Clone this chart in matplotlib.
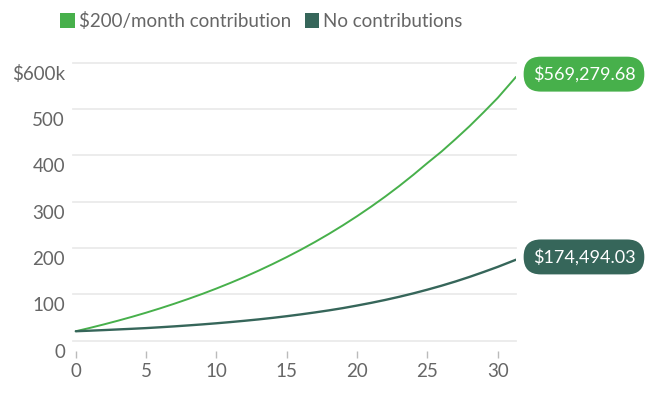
import numpy as np
import matplotlib
matplotlib.use("Agg")
import matplotlib.pyplot as plt
import matplotlib.transforms as mtransforms
from matplotlib.patches import Patch

plt.rcParams['font.family'] = ['Lato', 'DejaVu Sans']

# years since start (last point is where the lines end on the chart)
years = [0, 1, 2, 3, 4, 5, 6, 7, 8, 9, 10, 11, 12, 13, 14, 15, 16, 17, 18, 19, 20,
         21, 22, 23, 24, 25, 26, 27, 28, 29, 30, 31.3]

# balance in $k
with_contrib = [20, 27.2, 34.8, 42.8, 51.2, 60.1, 69.5, 79.4, 89.8, 100.7, 112.3,
                124.5, 137.3, 150.9, 165.2, 180.2, 196.0, 212.7, 230.3, 248.9, 268.5,
                289.1, 310.8, 333.7, 357.9, 383.3, 408, 435, 463, 493, 524, 569.28]
no_contrib = [20, 21.2, 22.5, 23.9, 25.3, 26.8, 28.6, 30.5, 32.6, 34.8, 37.2,
              39.8, 42.6, 45.6, 48.9, 52.5, 56.4, 60.6, 65.1, 70.0, 75.5,
              81.3, 87.6, 94.4, 101.8, 109.8, 118.3, 127.5, 137.4, 148.0, 159.0, 174.49]

series_names = ["$200/month contribution", "No contributions"]
end_labels = ["$569,279.68", "$174,494.03"]
y_ticks = [0, 100, 200, 300, 400, 500, 600]
x_ticks = [0, 5, 10, 15, 20, 25, 30]

GREEN = "#47b04b"
DARK = "#36665a"
GRAY = "#666666"

fig = plt.figure(figsize=(6.54, 3.94), dpi=100)
ax = fig.add_axes([73 / 654, (394 - 340.5) / 394, (516 - 73) / 654, (340.5 - 62.7) / 394])

ax.plot(years, with_contrib, color=GREEN, lw=1.4, solid_capstyle='round', zorder=3)
ax.plot(years, no_contrib, color=DARK, lw=1.7, solid_capstyle='round', zorder=3)

ax.set_xlim(-0.2, 31.3)
ax.set_ylim(0, 600)
ax.set_yticks(y_ticks)
ax.set_yticklabels(["$600k" if v == 600 else str(v) for v in y_ticks])
ax.set_xticks(x_ticks)
ax.set_xticklabels([str(v) for v in x_ticks])

for s in ['top', 'right', 'left']:
    ax.spines[s].set_visible(False)
ax.spines['bottom'].set_position(('outward', 7.5))
ax.spines['bottom'].set_visible(False)

ax.grid(axis='y', color='#ebebeb', lw=1.3)
ax.set_axisbelow(True)
for gl in ax.get_ygridlines():
    gl.set_clip_on(False)

ax.tick_params(axis='x', length=5, width=1, color='#bbbbbb', labelsize=13.5, labelcolor=GRAY, pad=4)
ax.tick_params(axis='y', length=0, labelsize=13.5, labelcolor=GRAY, pad=5.8)

# y labels sit a little under their gridlines
shift = mtransforms.ScaledTranslation(0, -0.1, fig.dpi_scale_trans)
for lab in ax.get_yticklabels():
    lab.set_transform(lab.get_transform() + shift)

# end-of-line value pills
for vals, txt, col in [(with_contrib, end_labels[0], GREEN), (no_contrib, end_labels[1], DARK)]:
    ax.annotate(txt, xy=(years[-1], vals[-1]), xytext=(12, 2), textcoords='offset points',
                ha='left', va='center', color='white', fontsize=13, annotation_clip=False,
                bbox=dict(boxstyle='round,pad=0.5,rounding_size=0.95', fc=col, ec='none'))

handles = [Patch(facecolor=GREEN, edgecolor='none'), Patch(facecolor=DARK, edgecolor='none')]
fig.legend(handles, series_names, loc='center', bbox_to_anchor=(0.40, 0.947), ncol=2, frameon=False,
           fontsize=13.5, labelcolor=GRAY, handlelength=0.75, handleheight=0.9, handletextpad=0.25,
           columnspacing=0.7)

fig.savefig("out.png", dpi=100)
